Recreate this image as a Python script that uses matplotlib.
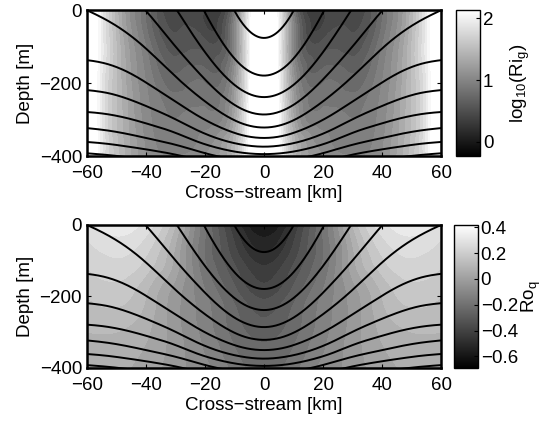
import numpy as np
import matplotlib
matplotlib.use("Agg")
import matplotlib.pyplot as plt
import matplotlib.tri as mtri
from matplotlib.cm import ScalarMappable
from matplotlib.colors import Normalize

plt.rcParams['font.family'] = ['Liberation Sans', 'DejaVu Sans']
plt.rcParams['mathtext.fontset'] = 'custom'
plt.rcParams['mathtext.rm'] = 'Liberation Sans'
plt.rcParams['mathtext.it'] = 'Liberation Sans:italic'

FS = 13.5

# --- values read off the section (west half, x <= 0; the section is mirrored about x = 0) ---
# depth [m] of each black isopycnal at x = -60, -55, ..., 0 km
# (values above 0 / below -400 continue the curves outside the box)
x_lines = [-60, -55, -50, -45, -40, -35, -30, -25, -20, -15, -10, -5, 0]
line_depths = [
    [1107, 1039, 954, 852, 733, 603, 465, 325, 195, 82, -7, -63, -82],
    [568, 525, 471, 406, 331, 249, 162, 74, -8, -79, -136, -171, -183],
    [297, 266, 227, 181, 127, 69, 6, -57, -116, -167, -207, -232, -241],
    [132, 108, 78, 42, 0, -50, -100, -146, -190, -230, -261, -281, -288],
    [0, -19, -42, -70, -104, -143, -182, -218, -250, -279, -303, -318, -323],
    [-137, -142, -155, -173, -198, -224, -250, -277, -301, -321, -337, -348, -351],
    [-219, -223, -232, -246, -262, -280, -298, -320, -339, -354, -365, -372, -375],
    [-279, -282, -289, -298, -310, -322, -335, -353, -368, -379, -388, -393, -395],
    [-323, -327, -333, -341, -350, -359, -368, -380, -392, -402, -409, -414, -415],
    [-361, -364, -369, -375, -381, -388, -395, -405, -414, -421, -427, -430, -431],
    [-392, -395, -399, -404, -410, -416, -423, -430, -436, -442, -446, -449, -450],
]

# log10 of the gradient Richardson number
x_ri = [-60, -55, -50, -45, -40, -30, -20, -10, -5, 0]
z_ri = [0, -100, -200, -300, -400]
ri_half = np.array([
    [2.6, 1.95, 1.45, 1.05, 0.80, 0.40, 0.40, 0.85, 1.95, 2.6],
    [2.6, 1.95, 1.50, 1.15, 0.90, 0.55, 0.55, 1.00, 2.00, 2.6],
    [2.6, 1.90, 1.50, 1.20, 1.00, 0.75, 0.80, 1.15, 2.05, 2.6],
    [2.6, 1.90, 1.50, 1.25, 1.05, 0.90, 0.95, 1.30, 2.10, 2.6],
    [2.6, 1.90, 1.55, 1.30, 1.10, 1.00, 1.10, 1.45, 2.15, 2.6],
])
ri_lim = (-0.23, 2.13)

# Rossby number
x_ro = [-60, -50, -40, -30, -20, -10, 0]
z_ro = [0, -100, -200, -300, -400]
ro_half = np.array([
    [0.28, 0.33, 0.28, 0.10, -0.20, -0.45, -0.62],
    [0.21, 0.245, 0.19, 0.03, -0.20, -0.36, -0.47],
    [0.15, 0.17, 0.10, -0.03, -0.14, -0.27, -0.36],
    [0.10, 0.10, 0.06, -0.03, -0.12, -0.22, -0.27],
    [0.06, 0.06, 0.03, -0.03, -0.085, -0.17, -0.23],
])
ro_lim = (-0.69, 0.42)


def mirror(x_half, f_half):
    x_full = list(x_half) + [-v for v in x_half[-2::-1]]
    f_full = np.hstack([f_half, f_half[:, -2::-1]])
    return x_full, f_full


def grid_triangles(nx, nz):
    # two triangles per cell, diagonals mirrored about the centre column
    mid = nx // 2
    tris = []
    for j in range(nz - 1):
        for i in range(nx - 1):
            a = j * nx + i
            if i < mid:
                tris += [[a, a + 1, a + nx + 1], [a, a + nx + 1, a + nx]]
            else:
                tris += [[a, a + 1, a + nx], [a + 1, a + nx + 1, a + nx]]
    return tris


def smooth_field(x_half, z_nodes, f_half, subdiv=4):
    # coarse grid -> matplotlib cubic tri-interpolation -> refined triangulation
    x_nodes, field = mirror(x_half, f_half)
    X, Z = np.meshgrid(x_nodes, z_nodes)
    t = mtri.Triangulation(X.ravel() / 60.0, Z.ravel() / 400.0,
                           grid_triangles(len(x_nodes), len(z_nodes)))
    interp = mtri.CubicTriInterpolator(t, field.ravel(), kind='min_E')
    tr, fr = mtri.UniformTriRefiner(t).refine_field(field.ravel(), triinterpolator=interp, subdiv=subdiv)
    return mtri.Triangulation(tr.x * 60.0, tr.y * 400.0, tr.triangles), fr


def smooth_line(x_half, depths, n=400):
    # one isopycnal: a two-row strip with equal rows, so the cubic
    # tri-interpolator acts as a smooth 1-D curve through the read points
    x_nodes, d = mirror(x_half, np.array([depths], float))
    d = d[0]
    X, Y = np.meshgrid(np.array(x_nodes) / 60.0, [0.0, 1.0])
    t = mtri.Triangulation(X.ravel(), Y.ravel(), grid_triangles(len(x_nodes), 2))
    interp = mtri.CubicTriInterpolator(t, np.concatenate([d, d]), kind='min_E')
    xf = np.linspace(-1, 1, n)
    return xf * 60.0, interp(xf, np.full_like(xf, 0.5))


ri_tri, ri = smooth_field(x_ri, z_ri, ri_half)
ro_tri, ro = smooth_field(x_ro, z_ro, ro_half)
lines = [smooth_line(x_lines, d) for d in line_depths]

fig = plt.figure(figsize=(5.5, 4.21), dpi=100)
ax1 = fig.add_axes([0.158, 0.629, 0.644, 0.347])
ax2 = fig.add_axes([0.158, 0.126, 0.644, 0.340])
cax1 = fig.add_axes([0.829, 0.629, 0.044, 0.347])
cax2 = fig.add_axes([0.825, 0.126, 0.044, 0.340])

panels = [
    (ax1, cax1, ri_tri, ri, ri_lim, np.arange(-0.2, 2.2, 0.1), [0, 1, 2],
     'log$_{10}$(Ri$_{\\mathrm{g}}$)', 11),
    (ax2, cax2, ro_tri, ro, ro_lim, np.arange(-0.7, 0.45, 0.05), [-0.6, -0.4, -0.2, 0, 0.2, 0.4],
     'Ro$_{\\mathrm{q}}$', 1.5),
]

for ax, cax, tri, f, lim, levels, cticks, clabel, cpad in panels:
    norm = Normalize(*lim)
    ax.tricontourf(tri, f, levels=levels, cmap='gray', norm=norm, extend='both')
    for xl, zl in lines:
        ax.plot(xl, zl, color='k', lw=1.4)
    ax.set_xlim(-60, 60)
    ax.set_ylim(-400, 0)
    ax.set_xticks([-60, -40, -20, 0, 20, 40, 60])
    ax.set_yticks([-400, -200, 0])
    ax.tick_params(direction='in', length=3, top=True, right=True, labelsize=FS)
    ax.tick_params(axis='x', pad=6.5)
    ax.tick_params(axis='y', pad=3.5)
    for s in ax.spines.values():
        s.set_linewidth(1.8)
    ax.set_xlabel('Cross\u2212stream [km]', fontsize=FS, labelpad=2)
    ax.set_ylabel('Depth [m]', fontsize=FS, labelpad=4)

    cb = fig.colorbar(ScalarMappable(norm=norm, cmap='gray'), cax=cax)
    cb.set_ticks(cticks)
    cb.ax.tick_params(direction='in', length=3, labelsize=FS, pad=2)
    cb.outline.set_linewidth(1.0)
    cb.set_label(clabel, fontsize=FS, labelpad=cpad)

cax2.set_yticklabels(['\u22120.6', '\u22120.4', '\u22120.2', '0', '0.2', '0.4'])

fig.savefig('out.png', dpi=100)
